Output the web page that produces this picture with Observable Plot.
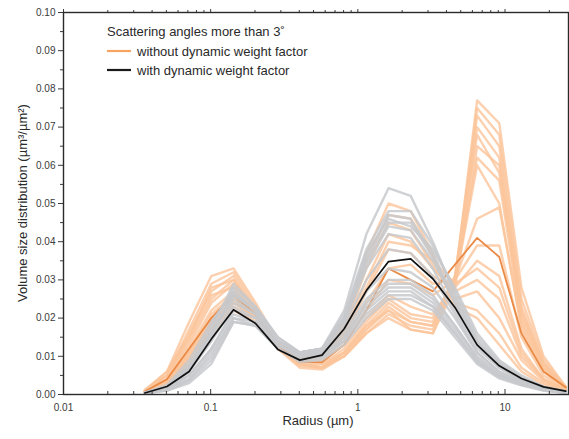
<!DOCTYPE html>
<html><head><meta charset="utf-8">
<script src="https://cdn.jsdelivr.net/npm/d3@7"></script>
<script src="https://cdn.jsdelivr.net/npm/@observablehq/plot@0.6"></script>
<style>body{margin:0;background:#fff} #chart{width:569px;height:439px}</style>
</head><body><div id="chart"></div>
<script>
// Radius bins (µm)
const radii = [0.0357,0.0505,0.0714,0.101,0.143,0.202,0.286,0.404,0.571,0.808,1.143,1.616,2.286,3.232,4.571,6.464,9.142,12.93,18.28,25.86];

// Retrievals without dynamic weight factor (light orange)
const withoutRuns = [
 [0.001,0.006,0.019,0.031,0.033,0.024,0.014,0.009,0.008,0.011,0.017,0.022,0.019,0.018,0.030,0.077,0.071,0.028,0.010,0.002],
 [0.001,0.005,0.017,0.029,0.032,0.023,0.013,0.008,0.007,0.010,0.016,0.021,0.018,0.017,0.029,0.075,0.068,0.025,0.009,0.002],
 [0.0012,0.006,0.016,0.027,0.031,0.022,0.013,0.008,0.007,0.011,0.018,0.024,0.020,0.019,0.031,0.073,0.065,0.023,0.008,0.002],
 [0.001,0.004,0.014,0.025,0.030,0.022,0.013,0.008,0.007,0.011,0.019,0.025,0.021,0.020,0.030,0.070,0.062,0.021,0.008,0.0018],
 [0.0008,0.004,0.013,0.024,0.029,0.021,0.012,0.0075,0.007,0.010,0.017,0.023,0.019,0.018,0.031,0.068,0.058,0.020,0.007,0.0018],
 [0.001,0.005,0.015,0.026,0.028,0.021,0.012,0.008,0.0072,0.011,0.018,0.022,0.017,0.016,0.030,0.062,0.056,0.019,0.007,0.0016],
 [0.0008,0.004,0.012,0.022,0.027,0.020,0.012,0.008,0.008,0.012,0.020,0.026,0.023,0.021,0.029,0.060,0.050,0.017,0.006,0.0015],
 [0.0007,0.003,0.011,0.021,0.026,0.021,0.013,0.009,0.009,0.013,0.022,0.030,0.029,0.026,0.030,0.046,0.049,0.018,0.006,0.0015],
 [0.0008,0.0035,0.011,0.020,0.026,0.020,0.013,0.009,0.0095,0.014,0.024,0.033,0.034,0.029,0.030,0.039,0.039,0.015,0.005,0.0013],
 [0.0006,0.003,0.010,0.019,0.025,0.020,0.013,0.009,0.0095,0.015,0.027,0.038,0.037,0.031,0.028,0.035,0.031,0.012,0.004,0.0012],
 [0.0006,0.003,0.009,0.018,0.024,0.020,0.013,0.0095,0.010,0.016,0.030,0.042,0.040,0.033,0.027,0.030,0.025,0.010,0.004,0.0011],
 [0.0005,0.0025,0.008,0.017,0.023,0.019,0.013,0.0095,0.010,0.017,0.033,0.045,0.043,0.034,0.025,0.027,0.020,0.009,0.0035,0.001],
 [0.0005,0.0025,0.008,0.016,0.022,0.019,0.013,0.010,0.011,0.018,0.035,0.047,0.046,0.036,0.024,0.022,0.016,0.007,0.003,0.001],
 [0.0006,0.003,0.009,0.017,0.024,0.020,0.014,0.010,0.011,0.019,0.037,0.050,0.048,0.037,0.023,0.020,0.013,0.006,0.0025,0.0009],
 [0.0007,0.003,0.010,0.019,0.025,0.021,0.014,0.0095,0.010,0.016,0.028,0.040,0.039,0.035,0.029,0.033,0.028,0.011,0.004,0.0012],
 [0.001,0.005,0.015,0.028,0.030,0.022,0.012,0.007,0.0065,0.010,0.016,0.020,0.017,0.016,0.028,0.065,0.060,0.022,0.008,0.0018]
];
// Mean without dynamic weight factor (dark orange)
const withoutMean = [0.0008,0.004,0.012,0.020,0.026,0.021,0.013,0.0085,0.0085,0.013,0.022,0.033,0.030,0.027,0.034,0.041,0.036,0.016,0.006,0.0019];

// Retrievals with dynamic weight factor (light gray)
const withRuns = [
 [0.0005,0.002,0.007,0.016,0.027,0.022,0.014,0.011,0.012,0.022,0.042,0.054,0.052,0.040,0.026,0.014,0.008,0.0045,0.002,0.0008],
 [0.0005,0.002,0.008,0.018,0.028,0.023,0.015,0.011,0.012,0.021,0.038,0.048,0.048,0.039,0.027,0.015,0.0085,0.0045,0.002,0.0008],
 [0.0004,0.002,0.007,0.017,0.029,0.023,0.015,0.011,0.012,0.020,0.036,0.047,0.046,0.037,0.025,0.014,0.008,0.004,0.0018,0.0007],
 [0.0005,0.0025,0.009,0.019,0.027,0.022,0.014,0.0105,0.0115,0.020,0.035,0.045,0.045,0.036,0.024,0.013,0.0075,0.004,0.0018,0.0007],
 [0.0004,0.0018,0.006,0.015,0.026,0.022,0.014,0.011,0.012,0.019,0.034,0.044,0.043,0.035,0.024,0.013,0.007,0.0038,0.0017,0.0007],
 [0.0004,0.002,0.007,0.016,0.025,0.021,0.014,0.0105,0.0115,0.019,0.033,0.042,0.041,0.033,0.022,0.012,0.007,0.0036,0.0016,0.0006],
 [0.0004,0.0018,0.006,0.014,0.024,0.021,0.014,0.010,0.011,0.018,0.030,0.038,0.037,0.031,0.021,0.011,0.006,0.0034,0.0015,0.0006],
 [0.0004,0.0015,0.005,0.012,0.022,0.020,0.013,0.010,0.011,0.016,0.025,0.030,0.030,0.026,0.018,0.010,0.0055,0.003,0.0014,0.0005],
 [0.0003,0.0014,0.005,0.012,0.021,0.019,0.013,0.010,0.0105,0.015,0.024,0.029,0.029,0.025,0.018,0.0095,0.005,0.003,0.0013,0.0005],
 [0.0003,0.0012,0.004,0.010,0.020,0.019,0.013,0.0095,0.010,0.015,0.023,0.028,0.028,0.024,0.017,0.009,0.005,0.0028,0.0012,0.0005],
 [0.0003,0.0012,0.004,0.011,0.020,0.018,0.012,0.009,0.010,0.014,0.022,0.027,0.027,0.023,0.016,0.0085,0.0048,0.0026,0.0011,0.0005],
 [0.0003,0.001,0.0035,0.009,0.019,0.018,0.012,0.009,0.0095,0.014,0.021,0.026,0.026,0.023,0.016,0.0085,0.0045,0.0025,0.0011,0.0004],
 [0.0004,0.0016,0.006,0.014,0.023,0.020,0.013,0.010,0.011,0.017,0.027,0.033,0.032,0.028,0.020,0.011,0.006,0.0032,0.0014,0.0005],
 [0.0003,0.001,0.003,0.008,0.019,0.018,0.012,0.0085,0.009,0.013,0.020,0.025,0.025,0.022,0.015,0.008,0.0042,0.0024,0.001,0.0004],
 [0.0005,0.002,0.007,0.016,0.026,0.022,0.014,0.011,0.012,0.020,0.037,0.046,0.044,0.038,0.028,0.016,0.009,0.005,0.002,0.0008]
];
// Mean with dynamic weight factor (black)
const withMean = [0.0004,0.0021,0.0060,0.0145,0.0222,0.0186,0.0118,0.0090,0.0103,0.0172,0.0272,0.0348,0.0355,0.0303,0.0228,0.0130,0.0075,0.0042,0.0020,0.0009];

const xTicks = [0.01, 0.1, 1, 10];
const xTickLabels = ["0.01", "0.1", "1", "10"];
const yTicks = [0, 0.01, 0.02, 0.03, 0.04, 0.05, 0.06, 0.07, 0.08, 0.09, 0.10];
const yMinorTicks = [0.005, 0.015, 0.025, 0.035, 0.045, 0.055, 0.065, 0.075, 0.085, 0.095];
const xLabel = "Radius (µm)";
const yLabel = "Volume size distribution (µm³/µm²)";
const legendTitle = "Scattering angles more than 3˚";
const legendItems = ["without dynamic weight factor", "with dynamic weight factor"];
const legendColors = ["#f5a561", "#1a1a1a"];

const xMinor = [];
for (let e = -2; e <= 1; e++) for (let m = 2; m <= 9; m++) { const t = m * 10 ** e; if (t <= 27) xMinor.push(t); }

const rows = (runs, g) => runs.flatMap((vals, i) => vals.map((v, j) => ({r: radii[j], v, run: g + i})));
const single = (vals) => vals.map((v, j) => ({r: radii[j], v}));

const FONT = "'Liberation Sans', Arial, Helvetica, sans-serif";

const chart = Plot.plot({
  width: 569, height: 439,
  marginLeft: 63, marginRight: 1, marginTop: 12, marginBottom: 45,
  style: {fontFamily: FONT, fontSize: "10px", color: "#3a3a3a", background: "#fff"},
  x: {type: "log", domain: [0.01, 27]},
  y: {domain: [0, 0.1]},
  marks: [
    Plot.line(rows(withoutRuns, "o"), {x: "r", y: "v", z: "run", stroke: "#fbc49a", strokeWidth: 2.4, strokeOpacity: 0.8}),
    Plot.line(single(withoutMean), {x: "r", y: "v", stroke: "#ea8a45", strokeWidth: 1.8}),
    Plot.line(rows(withRuns, "g"), {x: "r", y: "v", z: "run", stroke: "#c7c9cc", strokeWidth: 2.4, strokeOpacity: 0.85}),
    Plot.line(single(withMean), {x: "r", y: "v", stroke: "#111", strokeWidth: 1.7}),
    Plot.axisY(yTicks, {anchor: "left", tickSize: 5, tickPadding: 3, tickFormat: d3.format(".2f"), label: null}),
    Plot.axisY(yMinorTicks, {anchor: "left", tickSize: 3, tickFormat: () => "", label: null}),
    Plot.axisX(xTicks, {anchor: "bottom", tickSize: -5, tickPadding: 14, tickFormat: d => xTickLabels[xTicks.indexOf(d)], label: null}),
    Plot.axisX(xMinor, {anchor: "bottom", tickSize: -3, tickFormat: () => "", label: null}),
    Plot.axisX(xTicks, {anchor: "top", tickSize: 4, tickFormat: () => "", label: null}),
    Plot.axisX(xMinor, {anchor: "top", tickSize: 3, tickFormat: () => "", label: null}),
    Plot.frame({stroke: "#2a2a2a", strokeWidth: 1.4})
  ]
});

const svg = d3.select(chart);
const ys = chart.scale("y");
const yMid = (ys.apply(0) + ys.apply(0.1)) / 2;

svg.append("text").attr("x", 318).attr("y", 425).attr("text-anchor", "middle")
  .attr("font-size", 13).attr("fill", "#2a2a2a").attr("font-family", FONT).text(xLabel);
svg.append("text").attr("transform", `translate(27,${yMid}) rotate(-90)`).attr("text-anchor", "middle")
  .attr("font-size", 13).attr("fill", "#2a2a2a").attr("font-family", FONT).text(yLabel);

const lg = svg.append("g").attr("font-family", FONT).attr("font-size", 13).attr("fill", "#2a2a2a").attr("text-anchor", "start");
lg.append("text").attr("x", 107).attr("y", 36).text(legendTitle);
legendItems.forEach((txt, i) => {
  const yy = 51 + i * 19;
  lg.append("line").attr("x1", 107).attr("x2", 131).attr("y1", yy).attr("y2", yy)
    .attr("stroke", legendColors[i]).attr("stroke-width", 2.2);
  lg.append("text").attr("x", 137).attr("y", yy + 5).text(txt);
});

document.getElementById("chart").appendChild(chart);
</script>
</body></html>
